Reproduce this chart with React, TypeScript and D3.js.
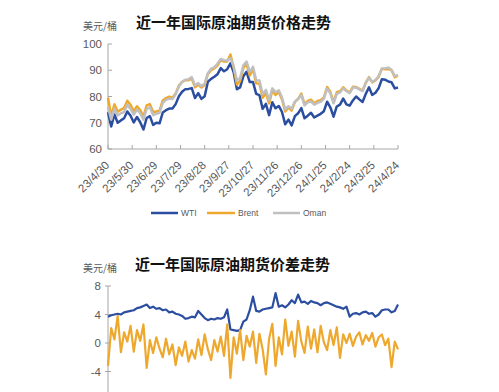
import React from 'react';
import * as d3 from 'd3';

const START = new Date(2023, 3, 30);
const STEP_DAYS = 4;
const SPAN_DAYS = 360;

const tickLabels = ['23/4/30', '23/5/30', '23/6/29', '23/7/29', '23/8/28', '23/9/27', '23/10/27', '23/11/26', '23/12/26', '24/1/25', '24/2/24', '24/3/25', '24/4/24'];
const priceTicks = [60, 70, 80, 90, 100];
const spreadTicks = [-4, 0, 4, 8];
const seriesNames = ['WTI', 'Brent', 'Oman'];

const wti = [74.0, 68.6, 73.2, 70.0, 70.9, 71.7, 74.3, 72.7, 70.1, 72.2, 70.2, 67.4, 71.8, 72.5, 69.2, 70.0, 69.8, 73.9, 74.8, 75.4, 75.4, 77.1, 80.1, 81.8, 82.8, 82.9, 83.2, 79.4, 81.3, 79.1, 80.1, 85.6, 86.7, 87.5, 88.5, 90.8, 89.6, 90.4, 92.6, 89.2, 82.8, 83.5, 87.7, 89.4, 85.5, 85.5, 81.0, 80.5, 75.3, 77.2, 72.9, 77.8, 75.5, 76.4, 74.1, 69.4, 71.2, 69.0, 72.5, 73.6, 75.6, 71.7, 72.7, 73.8, 72.0, 72.7, 73.4, 74.4, 78.0, 75.9, 72.3, 76.2, 76.9, 79.2, 77.0, 76.5, 78.5, 80.0, 78.9, 77.9, 81.0, 83.5, 80.6, 81.4, 83.2, 86.6, 86.4, 85.7, 85.4, 83.1, 83.4];

const brent = [79.5, 72.5, 77.0, 74.2, 75.0, 75.6, 78.4, 76.8, 74.3, 76.3, 74.8, 72.3, 76.6, 77.1, 74.0, 74.3, 74.6, 78.5, 79.4, 79.9, 79.5, 81.1, 84.2, 85.6, 86.2, 86.2, 86.8, 83.5, 84.5, 83.4, 84.4, 88.6, 90.0, 90.7, 91.9, 93.9, 93.3, 93.3, 96.0, 91.0, 84.6, 85.8, 90.9, 92.4, 88.0, 90.5, 85.0, 84.9, 79.5, 81.4, 77.4, 82.3, 80.6, 81.7, 78.9, 74.3, 75.8, 74.6, 77.9, 79.1, 81.1, 77.0, 78.3, 78.8, 77.4, 78.3, 78.6, 79.6, 83.6, 81.7, 77.9, 81.6, 82.0, 83.5, 82.3, 81.6, 83.7, 83.6, 82.9, 82.2, 85.3, 87.4, 85.4, 86.1, 87.5, 90.6, 90.4, 90.5, 90.0, 87.3, 88.0];

const oman = [76.0, 71.2, 75.4, 72.8, 73.6, 74.1, 76.8, 75.3, 73.1, 75.0, 73.6, 71.2, 75.3, 75.9, 72.9, 73.4, 73.8, 77.6, 78.7, 79.2, 79.0, 80.8, 83.8, 85.5, 86.4, 86.6, 87.4, 84.2, 85.1, 83.9, 84.9, 88.9, 90.6, 91.1, 92.6, 94.3, 93.8, 93.7, 94.6, 91.5, 86.1, 87.0, 91.9, 93.3, 89.4, 91.3, 86.2, 86.1, 80.9, 82.5, 78.6, 83.1, 81.6, 82.4, 79.6, 75.1, 76.3, 75.3, 78.1, 79.0, 80.6, 76.6, 77.8, 78.1, 76.9, 77.6, 78.0, 79.2, 83.0, 81.2, 77.4, 81.0, 81.5, 83.1, 82.0, 81.3, 83.4, 83.4, 82.7, 82.1, 85.1, 87.2, 85.6, 86.3, 87.8, 90.7, 90.8, 91.0, 90.1, 87.8, 88.1];

const spreadBlue = [3.7, 3.9, 4.0, 4.1, 4.0, 4.3, 4.4, 4.5, 4.6, 4.9, 5.0, 5.2, 5.4, 4.9, 5.1, 4.8, 4.9, 4.6, 4.7, 4.3, 4.4, 4.1, 4.0, 3.8, 3.4, 3.5, 3.7, 3.6, 4.5, 4.0, 3.5, 3.2, 3.4, 3.3, 3.5, 3.4, 3.6, 4.7, 1.9, 1.8, 1.7, 1.8, 3.0, 3.3, 4.6, 6.5, 4.5, 4.4, 4.7, 4.8, 4.9, 5.0, 7.0, 5.1, 5.3, 5.0, 5.4, 6.0, 5.6, 6.8, 5.7, 5.8, 5.5, 5.9, 5.7, 5.6, 5.3, 5.6, 5.7, 5.5, 5.3, 5.1, 5.0, 4.8, 5.1, 3.7, 4.1, 4.2, 4.0, 4.3, 4.4, 4.1, 4.2, 3.7, 4.0, 4.6, 4.7, 4.7, 4.3, 4.5, 5.4];

const spreadOrange = [-3.2, 2.1, 0.5, 3.8, -1.3, 1.5, 0.2, 2.4, -1.2, 1.8, 0.3, 2.6, -3.5, 0.4, -1.4, 0.8, -0.8, -2.0, 0.6, -1.6, -0.2, -3.1, -0.6, -1.8, 0.2, -2.6, -1.0, -2.2, 0.5, -1.7, 1.2, -0.9, -2.4, 0.4, -1.2, 0.9, -1.8, 2.6, -4.9, 0.8, -1.5, 1.8, -2.4, 1.0, -0.5, 1.6, -2.8, 1.3, -0.9, -4.4, 0.6, 2.7, -3.2, 0.8, -1.6, 3.3, -0.4, 1.6, -1.9, 3.1, 0.2, -1.4, 2.3, -0.8, 1.9, -1.3, 2.4, 0.1, -1.0, 1.8, -0.3, 2.2, -2.1, 1.2, 0.0, 1.3, -0.4, 0.9, 1.5, -0.2, 1.1, 0.3, 1.4, -0.5, 0.8, 1.2, -0.3, 0.6, -3.4, 0.2, -0.9];

const BLUE = '#2c4ea0';
const ORANGE = '#eea82e';
const GRAY = '#c0c0c0';
const AXIS = '#a6a6a6';
const LABEL = '#595959';
const SANS = '"Liberation Sans", Arial, sans-serif';
const CJK = '"Noto Sans CJK SC", sans-serif';

export default function App() {
  const dates = wti.map((_, i) => d3.timeDay.offset(START, i * STEP_DAYS));
  const tickDates = tickLabels.map((_, i) => d3.timeDay.offset(START, i * 30));
  const x = d3.scaleTime().domain([START, d3.timeDay.offset(START, SPAN_DAYS)]).range([108, 398]);
  const yTop = d3.scaleLinear().domain([60, 100]).range([149, 44]);
  const yBot = d3.scaleLinear().domain([-8, 8]).range([400, 286]);

  const lineTop = (vals: number[]) =>
    d3.line<number>().x((_, i) => x(dates[i])).y((d) => yTop(d))(vals) || '';
  const lineBot = (vals: number[]) =>
    d3.line<number>().x((_, i) => x(dates[i])).y((d) => yBot(d))(vals) || '';

  const legendItems = [
    { name: seriesNames[0], color: BLUE, x1: 151, x2: 178 },
    { name: seriesNames[1], color: ORANGE, x1: 207, x2: 235 },
    { name: seriesNames[2], color: GRAY, x1: 273, x2: 300 },
  ];

  return (
    <svg width={499} height={392} style={{ position: 'absolute', left: 0, top: 0, background: '#fff' }}>
      <rect width={499} height={392} fill="#fff" />
      {/* Top chart */}
      <text x={136} y={28} fontFamily={CJK} fontWeight={700} fontSize={15} fill="#111">近一年国际原油期货价格走势</text>
      <text x={83} y={30} fontFamily={CJK} fontSize={10} fill={LABEL}>美元/桶</text>
      <line x1={108} x2={108} y1={44} y2={149} stroke={AXIS} />
      <line x1={108} x2={398} y1={149} y2={149} stroke={AXIS} />
      {priceTicks.map((t) => (
        <g key={'pt' + t}>
          <line x1={108} x2={112} y1={yTop(t)} y2={yTop(t)} stroke={AXIS} />
          <text x={102} y={yTop(t) + 4} textAnchor="end" fontFamily={SANS} fontSize={11.5} fill={LABEL}>{t}</text>
        </g>
      ))}
      {tickDates.map((d, i) => (
        <g key={'xt' + i}>
          <line x1={x(d)} x2={x(d)} y1={145} y2={149} stroke={AXIS} />
          <text transform={`translate(${x(d) + 2},166) rotate(-45)`} textAnchor="end" fontFamily={SANS} fontSize={11.5} fill={LABEL}>{tickLabels[i]}</text>
        </g>
      ))}
      <path d={lineTop(wti)} fill="none" stroke={BLUE} strokeWidth={2.5} strokeLinejoin="round" />
      <path d={lineTop(brent)} fill="none" stroke={ORANGE} strokeWidth={2.5} strokeLinejoin="round" />
      <path d={lineTop(oman)} fill="none" stroke={GRAY} strokeWidth={2.5} strokeLinejoin="round" />
      {legendItems.map((it) => (
        <g key={it.name}>
          <line x1={it.x1} x2={it.x2} y1={213} y2={213} stroke={it.color} strokeWidth={2.5} />
          <text x={it.x2 + 3} y={216} fontFamily={SANS} fontSize={8.5} fill={LABEL}>{it.name}</text>
        </g>
      ))}

      {/* Bottom chart */}
      <text x={135} y={270} fontFamily={CJK} fontWeight={700} fontSize={15} fill="#111">近一年国际原油期货价差走势</text>
      <text x={83} y={272} fontFamily={CJK} fontSize={10} fill={LABEL}>美元/桶</text>
      <line x1={108} x2={108} y1={286} y2={392} stroke={AXIS} />
      {spreadTicks.map((t) => (
        <g key={'st' + t}>
          <line x1={105} x2={111} y1={yBot(t)} y2={yBot(t)} stroke={AXIS} />
          <text x={101} y={yBot(t) + 4} textAnchor="end" fontFamily={SANS} fontSize={11.5} fill={LABEL}>{t}</text>
        </g>
      ))}
      <path d={lineBot(spreadBlue)} fill="none" stroke={BLUE} strokeWidth={2.2} strokeLinejoin="round" />
      <path d={lineBot(spreadOrange)} fill="none" stroke={ORANGE} strokeWidth={2.2} strokeLinejoin="round" />
    </svg>
  );
}
